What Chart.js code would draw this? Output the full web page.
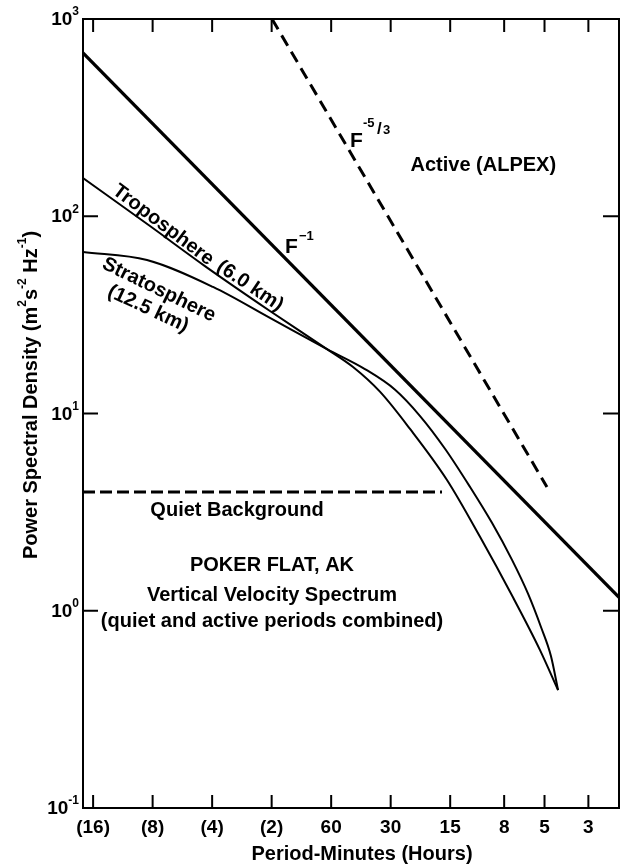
<!DOCTYPE html>
<html>
<head>
<meta charset="utf-8">
<script src="https://cdn.jsdelivr.net/npm/chart.js@4.4.1/dist/chart.umd.min.js"></script>
<style>
  html, body { margin: 0; padding: 0; background: #fff; }
  #psdChart { display: block; }
</style>
</head>
<body>
<canvas id="psdChart" width="621" height="864"></canvas>
<script>
// period in minutes (x) and power spectral density (y)
const f1Period = [1080, 2.1];
const f1Psd = [673, 1.17];

const f53Period = [119.5, 4.86];
const f53Psd = [1000, 4.24];

const quietPeriod = [1080, 16.5];
const quietPsd = [4.0, 4.0];

const tropoPeriod = [1080, 495, 261, 122.4, 63.0, 46.5, 34.0, 23.95, 15.57, 10.6, 7.22, 5.27, 4.27];
const tropoPsd = [156.3, 89.2, 55.9, 33.1, 21.2, 17.2, 12.9, 8.35, 4.60, 2.37, 1.17, 0.632, 0.396];

const stratoPeriod = [1080, 512.6, 237.5, 122.4, 63.0, 40.5, 28.5, 21.3, 15.9, 11.9, 9.22, 7.30, 6.06, 5.21, 4.64, 4.27];
const stratoPsd = [65.9, 60.0, 43.8, 30.5, 21.2, 16.8, 13.2, 9.71, 6.61, 4.24, 2.79, 1.81, 1.22, 0.827, 0.590, 0.396];

const xTickValues = [960, 480, 240, 120, 60, 30, 15, 8, 5, 3];
const xTickLabels = ['(16)', '(8)', '(4)', '(2)', '60', '30', '15', '8', '5', '3'];
const yTickValues = [1000, 100, 10, 1, 0.1];
const yTickExp = ['3', '2', '1', '0', '-1'];

const FONT = '"Liberation Sans", Arial, Helvetica, sans-serif';

function pts(xs, ys) {
  return xs.map((v, i) => ({ x: v, y: ys[i] }));
}

// draws text made of pieces, some of them raised
function drawRich(ctx, parts, x, y, align, size) {
  let w = 0;
  parts.forEach(p => {
    ctx.font = 'bold ' + (p.sup ? Math.round(size * 0.62) : size) + 'px ' + FONT;
    p.w = ctx.measureText(p.t).width;
    w += p.w;
  });
  let cx = align === 'right' ? x - w : align === 'center' ? x - w / 2 : x;
  parts.forEach(p => {
    ctx.font = 'bold ' + (p.sup ? Math.round(size * 0.62) : size) + 'px ' + FONT;
    ctx.fillText(p.t, cx, p.sup ? y - size * 0.42 : y);
    cx += p.w;
  });
}

const decor = {
  id: 'decor',
  afterDraw(chart) {
    const { ctx, chartArea: a, scales: { x, y } } = chart;
    ctx.save();
    ctx.strokeStyle = '#000';
    ctx.fillStyle = '#000';
    ctx.lineWidth = 2;
    ctx.strokeRect(a.left, a.top, a.right - a.left, a.bottom - a.top);

    ctx.beginPath();
    xTickValues.forEach(v => {
      const px = x.getPixelForValue(v);
      ctx.moveTo(px, a.bottom); ctx.lineTo(px, a.bottom - 13);
      ctx.moveTo(px, a.top); ctx.lineTo(px, a.top + 13);
    });
    yTickValues.forEach(v => {
      if (v === 1000 || v === 0.1) return;
      const py = y.getPixelForValue(v);
      ctx.moveTo(a.left, py); ctx.lineTo(a.left + 15, py);
      ctx.moveTo(a.right, py); ctx.lineTo(a.right - 16, py);
    });
    ctx.stroke();

    // y tick labels 10^n
    ctx.textBaseline = 'middle';
    yTickValues.forEach((v, i) => {
      const py = y.getPixelForValue(v);
      drawRich(ctx, [{ t: '10' }, { t: yTickExp[i], sup: true }], a.left - 4, py + 1, 'right', 19);
    });

    // y title
    ctx.save();
    ctx.translate(31, 395);
    ctx.rotate(-Math.PI / 2);
    drawRich(ctx, [
      { t: 'Power Spectral Density (m' }, { t: '2', sup: true }, { t: 's' },
      { t: '-2', sup: true }, { t: ' Hz' }, { t: '-1', sup: true }, { t: ')' }
    ], 0, 0, 'center', 20);
    ctx.restore();

    // x title
    ctx.font = 'bold 20px ' + FONT;
    ctx.textAlign = 'center';
    ctx.fillText('Period-Minutes (Hours)', 362, 854);

    // plain annotations, anchored in data units
    const plain = [
      ['Active (ALPEX)', 10.2, 180],
      ['Quiet Background', 179.6, 3.24],
      ['POKER FLAT, AK', 119.5, 1.69],
      ['Vertical Velocity Spectrum', 119.5, 1.19],
      ['(quiet and active periods combined)', 119.5, 0.887]
    ];
    plain.forEach(([t, px, py]) => {
      ctx.fillText(t, x.getPixelForValue(px), y.getPixelForValue(py));
    });

    // rotated curve labels
    const rotated = [
      ['Troposphere', 425, 90.3, 37],
      ['(6.0 km)', 154.5, 44.3, 34],
      ['Stratosphere', 446, 42.3, 26],
      ['(12.5 km)', 506, 33.9, 25]
    ];
    rotated.forEach(([t, px, py, ang]) => {
      ctx.save();
      ctx.translate(x.getPixelForValue(px), y.getPixelForValue(py));
      ctx.rotate(ang * Math.PI / 180);
      ctx.fillText(t, 0, 0);
      ctx.restore();
    });

    // slope labels
    ctx.textAlign = 'left';
    ctx.textBaseline = 'alphabetic';
    let fx = x.getPixelForValue(102.7), fy = y.getPixelForValue(65.1);
    ctx.font = 'bold 21px ' + FONT;
    ctx.fillText('F', fx, fy);
    ctx.font = 'bold 13px ' + FONT;
    ctx.fillText('\u22121', fx + 14, fy - 13);

    fx = x.getPixelForValue(48.2); fy = y.getPixelForValue(224.4);
    ctx.font = 'bold 21px ' + FONT;
    ctx.fillText('F', fx, fy);
    ctx.font = 'bold 13px ' + FONT;
    ctx.fillText('-5', fx + 13, fy - 20);
    ctx.font = 'bold 17px ' + FONT;
    ctx.fillText('/', fx + 27, fy - 13);
    ctx.font = 'bold 13px ' + FONT;
    ctx.fillText('3', fx + 33, fy - 13);
    ctx.restore();
  }
};

const ctx = document.getElementById('psdChart');
new Chart(ctx, {
  type: 'line',
  data: {
    datasets: [
      { label: 'F-1', data: pts(f1Period, f1Psd), borderColor: '#000', borderWidth: 3.2 },
      { label: 'F-5/3', data: pts(f53Period, f53Psd), borderColor: '#000', borderWidth: 3, borderDash: [12, 7] },
      { label: 'Quiet', data: pts(quietPeriod, quietPsd), borderColor: '#000', borderWidth: 3, borderDash: [12, 5] },
      { label: 'Troposphere', data: pts(tropoPeriod, tropoPsd), borderColor: '#000', borderWidth: 2, cubicInterpolationMode: 'monotone' },
      { label: 'Stratosphere', data: pts(stratoPeriod, stratoPsd), borderColor: '#000', borderWidth: 2, cubicInterpolationMode: 'monotone' }
    ]
  },
  options: {
    responsive: false,
    animation: false,
    devicePixelRatio: 1,
    layout: { padding: { top: 19, right: 2, left: 0, bottom: 0 } },
    elements: { point: { radius: 0 } },
    plugins: { legend: { display: false }, tooltip: { enabled: false } },
    scales: {
      x: {
        type: 'logarithmic',
        reverse: true,
        min: 2.1,
        max: 1080,
        grid: { display: false, drawTicks: false },
        border: { display: false },
        afterBuildTicks: s => { s.ticks = xTickValues.map(v => ({ value: v })); },
        afterFit: s => { s.height = 56; },
        ticks: {
          autoSkip: false,
          maxRotation: 0,
          padding: 8,
          color: '#000',
          font: { family: FONT, size: 19, weight: 'bold' },
          callback: (v, i) => xTickLabels[i]
        }
      },
      y: {
        type: 'logarithmic',
        min: 0.1,
        max: 1000,
        grid: { display: false, drawTicks: false },
        border: { display: false },
        afterBuildTicks: s => { s.ticks = yTickValues.map(v => ({ value: v })); },
        afterFit: s => { s.width = 83; },
        ticks: { display: false }
      }
    }
  },
  plugins: [decor]
});
</script>
</body>
</html>
